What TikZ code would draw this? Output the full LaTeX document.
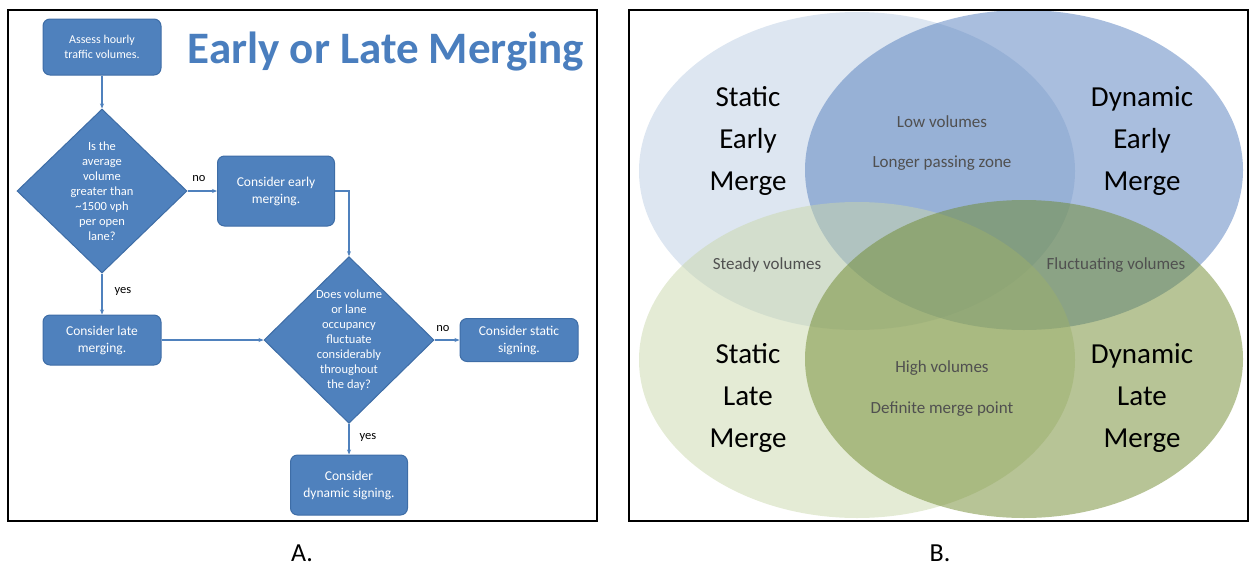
\documentclass[tikz,border=0pt]{standalone}
\usepackage{fontspec}
\setmainfont{Carlito}
\usetikzlibrary{shapes.geometric,arrows.meta}
\definecolor{boxblue}{HTML}{4F81BD}
\definecolor{boxedge}{HTML}{3E6DA6}
\definecolor{titleblue}{HTML}{4A7EBE}
\definecolor{tlc}{HTML}{BBCDE3}
\definecolor{trc}{HTML}{537DBD}
\definecolor{blc}{HTML}{C9D7AB}
\definecolor{brc}{HTML}{6F892D}
\definecolor{venntext}{HTML}{505050}
\begin{document}
\begin{tikzpicture}[x=1pt,y=-1pt,
  flowbox/.style={rectangle, rounded corners=7pt, fill=boxblue, draw=boxedge, line width=1pt,
    text=white, align=center, inner sep=0pt, font=\fontsize{13.5}{17}\selectfont},
  decision/.style={diamond, fill=boxblue, draw=boxedge, line width=1pt, text=white, align=center,
    inner sep=0pt, minimum width=170pt, minimum height=164pt, font=\fontsize{12.5}{15}\selectfont},
  conn/.style={draw=boxblue, line width=1.2pt, -{Stealth[length=5pt,width=4pt]}},
  edgelabel/.style={font=\fontsize{12.5}{14}\selectfont, text=black, inner sep=0pt},
  frame/.style={draw=black, line width=2pt},
  bigvenn/.style={align=center, text=black, font=\fontsize{29}{42}\selectfont, inner sep=0pt},
  smallvenn/.style={text=venntext, font=\fontsize{17}{20}\selectfont, inner sep=0pt},
  panellabel/.style={font=\fontsize{26}{30}\selectfont, text=black, inner sep=0pt}]
\useasboundingbox (0,0) rectangle (1249,573);

% ---------- Panel A ----------
\draw[frame] (8,10) rectangle (597,521);
\node[text=titleblue, font=\fontsize{45}{50}\selectfont\bfseries, inner sep=0pt] (title) at (386,52) {Early or Late Merging};

\node[flowbox, minimum width=118pt, minimum height=56pt, font=\fontsize{12}{15}\selectfont] (assess) at (102,47) {Assess hourly\\traffic volumes.};
\node[decision] (d1) at (102,191) {Is the\\average\\volume\\greater than\\\textasciitilde1500 vph\\per open\\lane?};
\node[flowbox, minimum width=117pt, minimum height=70pt] (early) at (276,191) {Consider early\\merging.};
\node[flowbox, minimum width=118pt, minimum height=50pt] (late) at (102,340) {Consider late\\merging.};
\node[decision] (d2) at (349,340) {Does volume\\or lane\\occupancy\\fluctuate\\considerably\\throughout\\the day?};
\node[flowbox, minimum width=118pt, minimum height=43pt] (static) at (519,340) {Consider static\\signing.};
\node[flowbox, minimum width=117pt, minimum height=60pt] (dynamic) at (349,485) {Consider\\dynamic signing.};

\draw[conn] (assess) -- (d1);
\draw[conn] (d1.east) -- (early.west);
\draw[conn] (early.east) -| (d2.north);
\draw[conn] (d1.south) -- (late.north);
\draw[conn] (late.east) -- (d2.west);
\draw[conn] (d2.east) -- (static.west);
\draw[conn] (d2.south) -- (dynamic.north);

\node[edgelabel] (no1) at (199,179) {no};
\node[edgelabel] (yes1) at (123,291) {yes};
\node[edgelabel] (no2) at (443,329) {no};
\node[edgelabel] (yes2) at (368,437) {yes};

\node[panellabel] (labA) at (302,553) {A.};

% ---------- Panel B ----------
\begin{scope}
\clip (629,10) rectangle (1248,521);
\fill[tlc, fill opacity=0.5] (857,171) ellipse [x radius=218pt, y radius=159pt];
\fill[trc, fill opacity=0.5] (1024,170) ellipse [x radius=219pt, y radius=160pt];
\fill[blc, fill opacity=0.5] (857,360) ellipse [x radius=218pt, y radius=158pt];
\fill[brc, fill opacity=0.5] (1024,359) ellipse [x radius=219pt, y radius=159pt];
\end{scope}
\draw[frame] (629,10) rectangle (1248,521);

\node[bigvenn] (se) at (748,141) {Static\\Early\\Merge};
\node[bigvenn] (de) at (1142,141) {Dynamic\\Early\\Merge};
\node[bigvenn] (sl) at (748,398) {Static\\Late\\Merge};
\node[bigvenn] (dl) at (1142,398) {Dynamic\\Late\\Merge};

\node[smallvenn] (low) at (942,122) {Low volumes};
\node[smallvenn] (longer) at (942,163) {Longer passing zone};
\node[smallvenn] (steady) at (767,265) {Steady volumes};
\node[smallvenn] (fluct) at (1116,265) {Fluctuating volumes};
\node[smallvenn] (high) at (942,368) {High volumes};
\node[smallvenn] (definite) at (942,409) {Definite merge point};

\node[panellabel] (labB) at (940,553) {B.};
\end{tikzpicture}
\end{document}
